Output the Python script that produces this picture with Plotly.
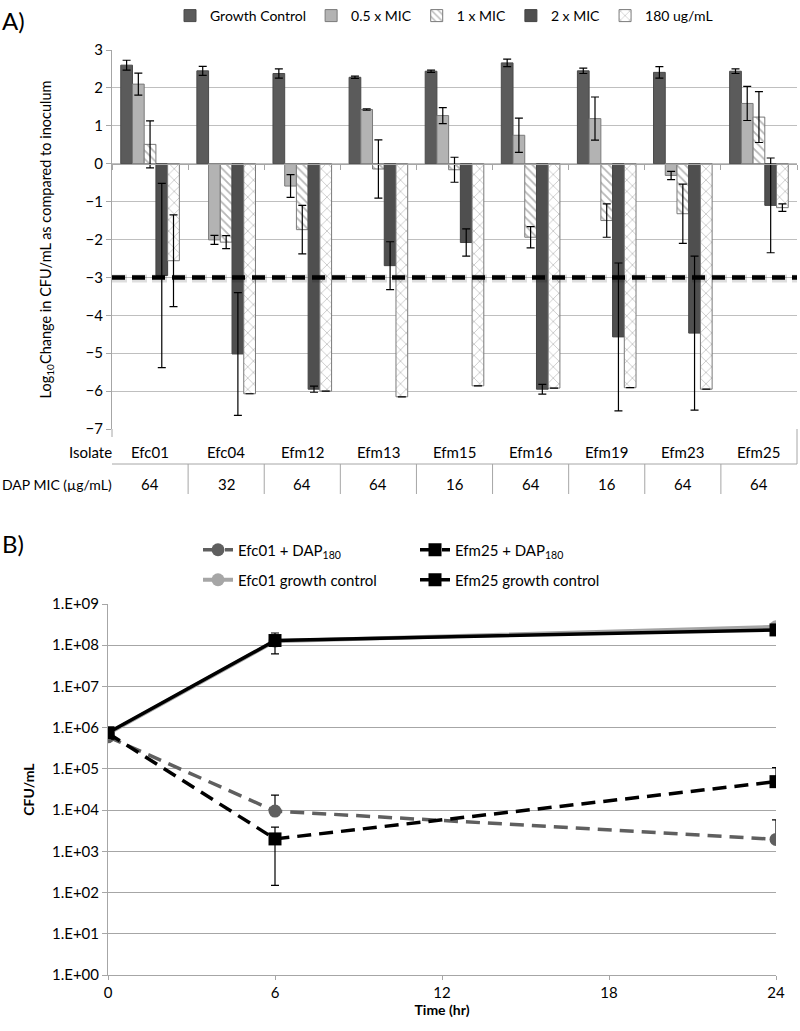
import plotly.graph_objects as go

# ---------------- Panel A data ----------------
isolates = ["Efc01", "Efc04", "Efm12", "Efm13", "Efm15", "Efm16", "Efm19", "Efm23", "Efm25"]
dap_mic = ["64", "32", "64", "64", "16", "64", "16", "64", "64"]

growth_control = [2.60, 2.45, 2.38, 2.28, 2.44, 2.66, 2.45, 2.41, 2.44]
growth_control_err = [0.13, 0.12, 0.12, 0.03, 0.03, 0.10, 0.07, 0.15, 0.06]
mic_05 = [2.10, -2.01, -0.59, 1.43, 1.27, 0.75, 1.19, -0.31, 1.59]
mic_05_err = [0.29, 0.12, 0.30, 0.02, 0.21, 0.45, 0.57, 0.11, 0.45]
mic_1 = [0.51, -2.07, -1.74, -0.14, -0.16, -1.94, -1.50, -1.32, 1.23]
mic_1_err = [0.62, 0.17, 0.64, 0.77, 0.33, 0.28, 0.44, 0.78, 0.67]
mic_2 = [-2.95, -5.02, -5.95, -2.69, -2.08, -5.95, -4.57, -4.47, -1.10]
mic_2_err = [2.43, 1.62, 0.08, 0.63, 0.36, 0.13, 1.95, 2.03, 1.25]
dap_180 = [-2.56, -6.07, -6.00, -6.15, -5.86, -5.92, -5.91, -5.95, -1.16]
dap_180_err = [1.21, 0.0, 0.0, 0.0, 0.0, 0.0, 0.0, 0.0, 0.10]
kill_threshold = -3

# ---------------- Panel B data ----------------
time_hr = [0, 6, 24]
efc01_dap = [6.0e5, 9.5e3, 1.95e3]
efc01_dap_err_plus = [0, 1.35e4, 3.85e3]
efc01_dap_err_minus = [0, 0, 0]
efm25_dap = [7.3e5, 2.0e3, 4.9e4]
efm25_dap_err_plus = [0, 1.85e3, 5.8e4]
efm25_dap_err_minus = [0, 1.85e3, 0]
efc01_gc = [7.2e5, 1.25e8, 2.8e8]
efm25_gc = [7.5e5, 1.3e8, 2.35e8]
efm25_gc_err = [0, 6.8e7, 0]
ytick_vals = [1, 1e1, 1e2, 1e3, 1e4, 1e5, 1e6, 1e7, 1e8, 1e9]
ytick_text = ["1.E+00", "1.E+01", "1.E+02", "1.E+03", "1.E+04", "1.E+05", "1.E+06", "1.E+07", "1.E+08", "1.E+09"]
xtick_vals = [0, 6, 12, 18, 24]

FONT = "Lato, 'Open Sans', sans-serif"
W, H = 800, 1031

def py(px):
    return 1 - px / H

def pxx(px):
    return px / W

A_x = [pxx(112), pxx(797)]
A_y = [py(429), py(50)]
B_x = [pxx(108), pxx(776)]
B_y = [py(975), py(604)]
zero_pos = A_y[0] + (0 - (-7)) / 10 * (A_y[1] - A_y[0])

fig = go.Figure()

def err(arr):
    return dict(type="data", array=arr, visible=True, color="black", thickness=1.2, width=4)

bar_line = dict(color="#7a7a7a", width=1)
fig.add_trace(go.Bar(name="Growth Control", x=isolates, y=growth_control, error_y=err(growth_control_err),
                     marker=dict(color="#5b5b5b", line=dict(color="#4a4a4a", width=1)), legend="legend"))
fig.add_trace(go.Bar(name="0.5 x MIC", x=isolates, y=mic_05, error_y=err(mic_05_err),
                     marker=dict(color="#b3b3b3", line=bar_line), legend="legend"))
fig.add_trace(go.Bar(name="1 x MIC", x=isolates, y=mic_1, error_y=err(mic_1_err),
                     marker=dict(color="white", line=bar_line,
                                 pattern=dict(shape="\\", bgcolor="white", fgcolor="#6f6f6f", size=6, solidity=0.3)),
                     legend="legend"))
fig.add_trace(go.Bar(name="2 x MIC", x=isolates, y=mic_2, error_y=err(mic_2_err),
                     marker=dict(color="#4f4f4f", line=dict(color="#444444", width=1)), legend="legend"))
fig.add_trace(go.Bar(name="180 ug/mL", x=isolates, y=dap_180, error_y=err(dap_180_err),
                     marker=dict(color="white", line=bar_line,
                                 pattern=dict(shape="x", bgcolor="white", fgcolor="#8a8a8a", size=8, solidity=0.2)),
                     legend="legend"))

# Panel B traces
fig.add_trace(go.Scatter(name="Efc01 + DAP<sub>180</sub>", x=time_hr, y=efc01_dap, xaxis="x2", yaxis="y2",
                         mode="lines+markers", line=dict(color="#5f5f5f", width=3.5, dash="14px,8px"),
                         marker=dict(symbol="circle", size=13, color="#5f5f5f"),
                         error_y=dict(type="data", symmetric=False, array=efc01_dap_err_plus,
                                      arrayminus=efc01_dap_err_minus, color="black", thickness=1.2, width=4),
                         legend="legend2"))
fig.add_trace(go.Scatter(name="Efm25 + DAP<sub>180</sub>", x=time_hr, y=efm25_dap, xaxis="x2", yaxis="y2",
                         mode="lines+markers", line=dict(color="black", width=3.5, dash="14px,8px"),
                         marker=dict(symbol="square", size=13, color="black"),
                         error_y=dict(type="data", symmetric=False, array=efm25_dap_err_plus,
                                      arrayminus=efm25_dap_err_minus, color="black", thickness=1.2, width=4),
                         legend="legend2"))
fig.add_trace(go.Scatter(name="Efc01 growth control", x=time_hr, y=efc01_gc, xaxis="x2", yaxis="y2",
                         mode="lines+markers", line=dict(color="#a6a6a6", width=4),
                         marker=dict(symbol="circle", size=13, color="#a6a6a6"),
                         legend="legend3"))
fig.add_trace(go.Scatter(name="Efm25 growth control", x=time_hr, y=efm25_gc, xaxis="x2", yaxis="y2",
                         mode="lines+markers", line=dict(color="black", width=3.5),
                         marker=dict(symbol="square", size=13, color="black"),
                         error_y=dict(type="data", array=efm25_gc_err, color="black", thickness=1.2, width=4),
                         legend="legend3"))

shapes = []
# kill threshold line (soft shadow + dashed)
shapes.append(dict(type="line", xref="x domain", yref="y", x0=0, x1=1, y0=kill_threshold - 0.03, y1=kill_threshold - 0.03,
                   line=dict(color="rgba(0,0,0,0.13)", width=8, dash="15px,5px"), layer="above"))
shapes.append(dict(type="line", xref="x domain", yref="y", x0=0, x1=1, y0=kill_threshold, y1=kill_threshold,
                   line=dict(color="black", width=4.5, dash="13px,7px"), layer="above"))

# table lines
tcol = "#a6a6a6"
shapes.append(dict(type="line", xref="paper", yref="paper", x0=pxx(112), x1=pxx(112), y0=py(429), y1=py(437),
                   line=dict(color=tcol, width=1)))
shapes.append(dict(type="line", xref="paper", yref="paper", x0=pxx(112), x1=pxx(797), y0=py(464), y1=py(464),
                   line=dict(color=tcol, width=1)))
shapes.append(dict(type="line", xref="paper", yref="paper", x0=pxx(797), x1=pxx(797), y0=py(429), y1=py(464),
                   line=dict(color=tcol, width=1)))
for i in range(len(isolates) - 1):
    shapes.append(dict(type="line", xref="x", yref="paper", x0=i + 0.5, x1=i + 0.5, y0=py(464), y1=py(494),
                       line=dict(color=tcol, width=1)))

annotations = []
annotations.append(dict(text="A)", xref="paper", yref="paper", x=0.0, y=py(20), xanchor="left", yanchor="middle",
                        showarrow=False, font=dict(size=24, color="black", family=FONT)))
annotations.append(dict(text="B)", xref="paper", yref="paper", x=0.0, y=py(543), xanchor="left", yanchor="middle",
                        showarrow=False, font=dict(size=24, color="black", family=FONT)))
annotations.append(dict(text="Isolate", xref="paper", yref="paper", x=pxx(114), y=py(452), xanchor="right",
                        yanchor="middle", showarrow=False, font=dict(size=15, color="black", family=FONT)))
annotations.append(dict(text="DAP MIC (µg/mL)", xref="paper", yref="paper", x=pxx(114), y=py(484), xanchor="right",
                        yanchor="middle", showarrow=False, font=dict(size=14, color="black", family=FONT)))
for name, mic in zip(isolates, dap_mic):
    annotations.append(dict(text=name, xref="x", yref="paper", x=name, y=py(452), xanchor="center", yanchor="middle",
                            showarrow=False, font=dict(size=15, color="black", family=FONT)))
    annotations.append(dict(text=mic, xref="x", yref="paper", x=name, y=py(484), xanchor="center", yanchor="middle",
                            showarrow=False, font=dict(size=15, color="black", family=FONT)))

fig.update_layout(
    width=W, height=H, autosize=False,
    margin=dict(l=0, r=0, t=0, b=0, pad=0, autoexpand=False),
    paper_bgcolor="white", plot_bgcolor="white",
    font=dict(family=FONT, color="black", size=14),
    barmode="group", bargap=0.23, bargroupgap=0,
    shapes=shapes, annotations=annotations,
    xaxis=dict(domain=A_x, type="category", categoryorder="array", categoryarray=isolates,
               range=[-0.5, len(isolates) - 0.5], anchor="free", position=zero_pos,
               showticklabels=False, showline=True, linecolor="#a6a6a6", linewidth=1,
               ticks="outside", tickson="boundaries", ticklen=5, tickcolor="#a6a6a6", showgrid=False),
    yaxis=dict(domain=A_y, anchor="x", range=[-7, 3], dtick=1, tick0=0, showgrid=True, gridcolor="#bfbfbf",
               gridwidth=1, zeroline=False, showline=True, linecolor="#a6a6a6", ticks="outside", ticklen=5,
               tickcolor="#a6a6a6", tickfont=dict(size=15, family=FONT),
               title=dict(text="Log<sub>10</sub>Change in CFU/mL as compared to inoculum", standoff=30,
                          font=dict(size=14.5, family=FONT))),
    xaxis2=dict(domain=B_x, anchor="y2", range=[0, 24], tickvals=xtick_vals, showgrid=False, zeroline=False,
                showline=True, linecolor="#a6a6a6", ticks="outside", ticklen=4, tickcolor="#a6a6a6",
                tickfont=dict(size=15, family=FONT),
                title=dict(text="<b>Time (hr)</b>", standoff=2, font=dict(size=14, family=FONT))),
    yaxis2=dict(domain=B_y, anchor="x2", type="log", range=[0, 9], tickvals=ytick_vals, ticktext=ytick_text,
                showgrid=True, gridcolor="#a6a6a6", gridwidth=1.2, zeroline=False, showline=True,
                linecolor="#a6a6a6", ticks="outside", ticklen=5, tickcolor="#a6a6a6",
                tickfont=dict(size=15, family=FONT),
                title=dict(text="<b>CFU/mL</b>", standoff=14, font=dict(size=14, family=FONT))),
    legend=dict(orientation="h", x=pxx(444), xanchor="center", y=1.0, yanchor="top",
                font=dict(size=14, family=FONT), bgcolor="rgba(0,0,0,0)", itemwidth=30, traceorder="normal"),
    legend2=dict(orientation="h", x=pxx(198), xanchor="left", y=py(550), yanchor="middle",
                 font=dict(size=15, family=FONT), bgcolor="rgba(0,0,0,0)", entrywidth=172,
                 entrywidthmode="pixels", traceorder="normal"),
    legend3=dict(orientation="h", x=pxx(198), xanchor="left", y=py(580), yanchor="middle",
                 font=dict(size=15, family=FONT), bgcolor="rgba(0,0,0,0)", entrywidth=172,
                 entrywidthmode="pixels", traceorder="normal"),
)

fig.write_html("out.html", config={"displayModeBar": False},
               post_script="document.body.style.margin='0';document.body.style.overflow='hidden';")
